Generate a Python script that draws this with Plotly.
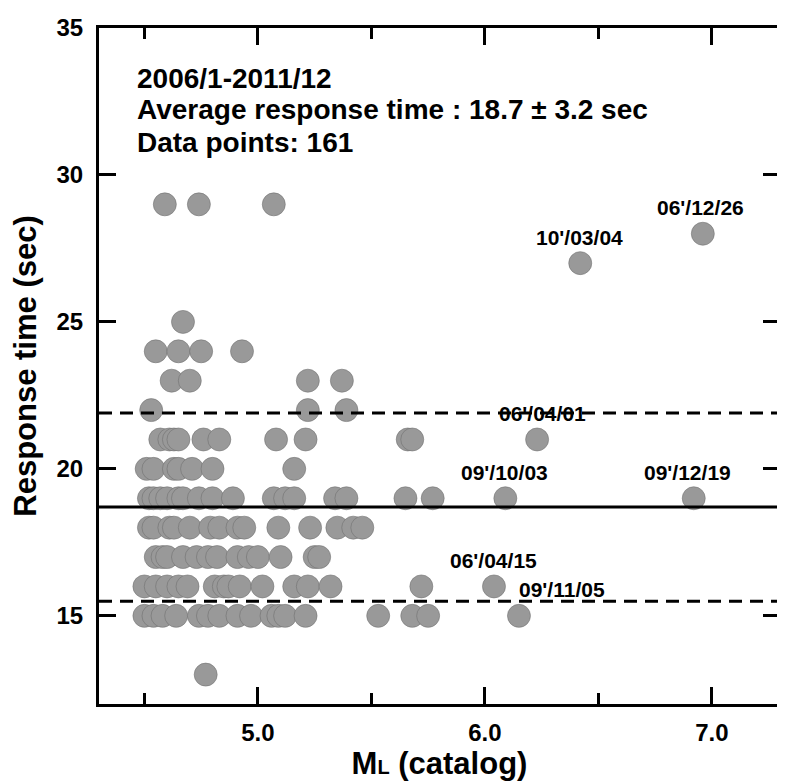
import plotly.graph_objects as go

# ---------------- data ----------------
rt_29 = [4.59, 4.74, 5.07]
rt_28 = [6.96]
rt_27 = [6.42]
rt_25 = [4.67]
rt_24 = [4.55, 4.65, 4.75, 4.93]
rt_23 = [4.62, 4.70, 5.22, 5.37]
rt_22 = [4.53, 5.22, 5.39]
rt_21 = [4.57, 4.61, 4.63, 4.65, 4.76, 4.83, 5.08, 5.21, 5.66, 5.68, 6.23]
rt_20 = [4.51, 4.54, 4.63, 4.65, 4.71, 4.80, 5.16]
rt_19 = [4.52, 4.54, 4.57, 4.60, 4.65, 4.67, 4.74, 4.80, 4.89, 5.07, 5.12,
         5.16, 5.34, 5.39, 5.65, 5.77, 6.09, 6.92]
rt_18 = [4.52, 4.54, 4.61, 4.63, 4.70, 4.79, 4.83, 4.91, 4.94, 5.09, 5.23,
         5.35, 5.42, 5.46]
rt_17 = [4.55, 4.58, 4.60, 4.67, 4.73, 4.78, 4.82, 4.91, 4.96, 5.00, 5.10,
         5.25, 5.27]
rt_16 = [4.50, 4.55, 4.60, 4.65, 4.69, 4.81, 4.85, 4.87, 4.92, 5.02, 5.16,
         5.22, 5.32, 5.72, 6.04]
rt_15 = [4.50, 4.54, 4.58, 4.64, 4.74, 4.78, 4.83, 4.91, 4.97, 5.06, 5.09,
         5.12, 5.21, 5.53, 5.68, 5.75, 6.15]
rt_13 = [4.77]

rows = {29: rt_29, 28: rt_28, 27: rt_27, 25: rt_25, 24: rt_24, 23: rt_23,
        22: rt_22, 21: rt_21, 20: rt_20, 19: rt_19, 18: rt_18, 17: rt_17,
        16: rt_16, 15: rt_15, 13: rt_13}

ml = []
rt = []
for sec, mags in rows.items():
    for m in mags:
        ml.append(m)
        rt.append(sec)

mean_rt = 18.7
std_rt = 3.2

label_text = ["06'/12/26", "10'/03/04", "06'/04/01", "09'/10/03",
              "09'/12/19", "06'/04/15", "09'/11/05"]
label_ml = [6.96, 6.42, 6.23, 6.09, 6.92, 6.04, 6.15]
label_rt = [28, 27, 21, 19, 19, 16, 15]
label_dx = [-2, -1, 5, -1, -6, 0, 43]

info_lines = ["2006/1-2011/12",
              "Average response time : 18.7 \u00b1 3.2 sec",
              "Data points: 161"]

x_ticks = [5.0, 6.0, 7.0]
x_tick_text = ["5.0", "6.0", "7.0"]
y_ticks = [15, 20, 25, 30, 35]

FONT = "Liberation Sans, Arial, sans-serif"

fig = go.Figure()
fig.add_trace(go.Scatter(
    x=ml, y=rt, mode="markers",
    marker=dict(size=23, color="#999999",
                line=dict(color="rgba(110,110,110,0.55)", width=1)),
    showlegend=False, hoverinfo="x+y"))

# mean and +/- std lines
fig.add_hline(y=mean_rt, line=dict(color="black", width=3))
for yv in (mean_rt + std_rt, mean_rt - std_rt):
    fig.add_hline(y=yv, line=dict(color="black", width=3, dash="13px,8px"))

# event labels
for t, xv, yv, dx in zip(label_text, label_ml, label_rt, label_dx):
    fig.add_annotation(x=xv, y=yv, text=t, showarrow=False,
                       xshift=dx, yshift=26,
                       font=dict(family=FONT, size=21, color="black",
                                 weight="bold"))

# info text block
for i, (line, yp) in enumerate(zip(info_lines, [0.925, 0.879, 0.831])):
    fig.add_annotation(x=0.053, y=yp, xref="paper", yref="paper",
                       text=line, showarrow=False, xanchor="left",
                       yanchor="middle",
                       font=dict(family=FONT, size=28, color="black",
                                 weight="bold"))

axis_common = dict(showline=True, linecolor="black", linewidth=3,
                   mirror="ticks", ticks="inside", tickcolor="black",
                   tickwidth=3, showgrid=False, zeroline=False,
                   tickfont=dict(family=FONT, size=24, color="black",
                                 weight="bold"))

fig.update_xaxes(range=[4.3, 7.3], tickvals=x_ticks, ticktext=x_tick_text,
                 ticklen=17, ticklabelstandoff=5,
                 minor=dict(ticks="inside", ticklen=11, tickwidth=3,
                            tickcolor="black", dtick=0.5, tick0=4.5,
                            showgrid=False),
                 title=dict(text="M<span style='font-size:20px'>L</span> (catalog)",
                            font=dict(family=FONT, size=31, color="black",
                                      weight="bold"), standoff=3),
                 **axis_common)
fig.update_yaxes(range=[12, 35], tickvals=y_ticks, ticklen=17,
                 ticklabelstandoff=8,
                 title=dict(text="Response time (sec)",
                            font=dict(family=FONT, size=31, color="black",
                                      weight="bold"), standoff=20),
                 **axis_common)

# the page body adds a small offset: the figure is sized to fit the window
fig.update_layout(width=781, height=775,
                  margin=dict(l=91, r=6, t=16, b=79),
                  plot_bgcolor="white", paper_bgcolor="white")

fig.write_html("out.html")
